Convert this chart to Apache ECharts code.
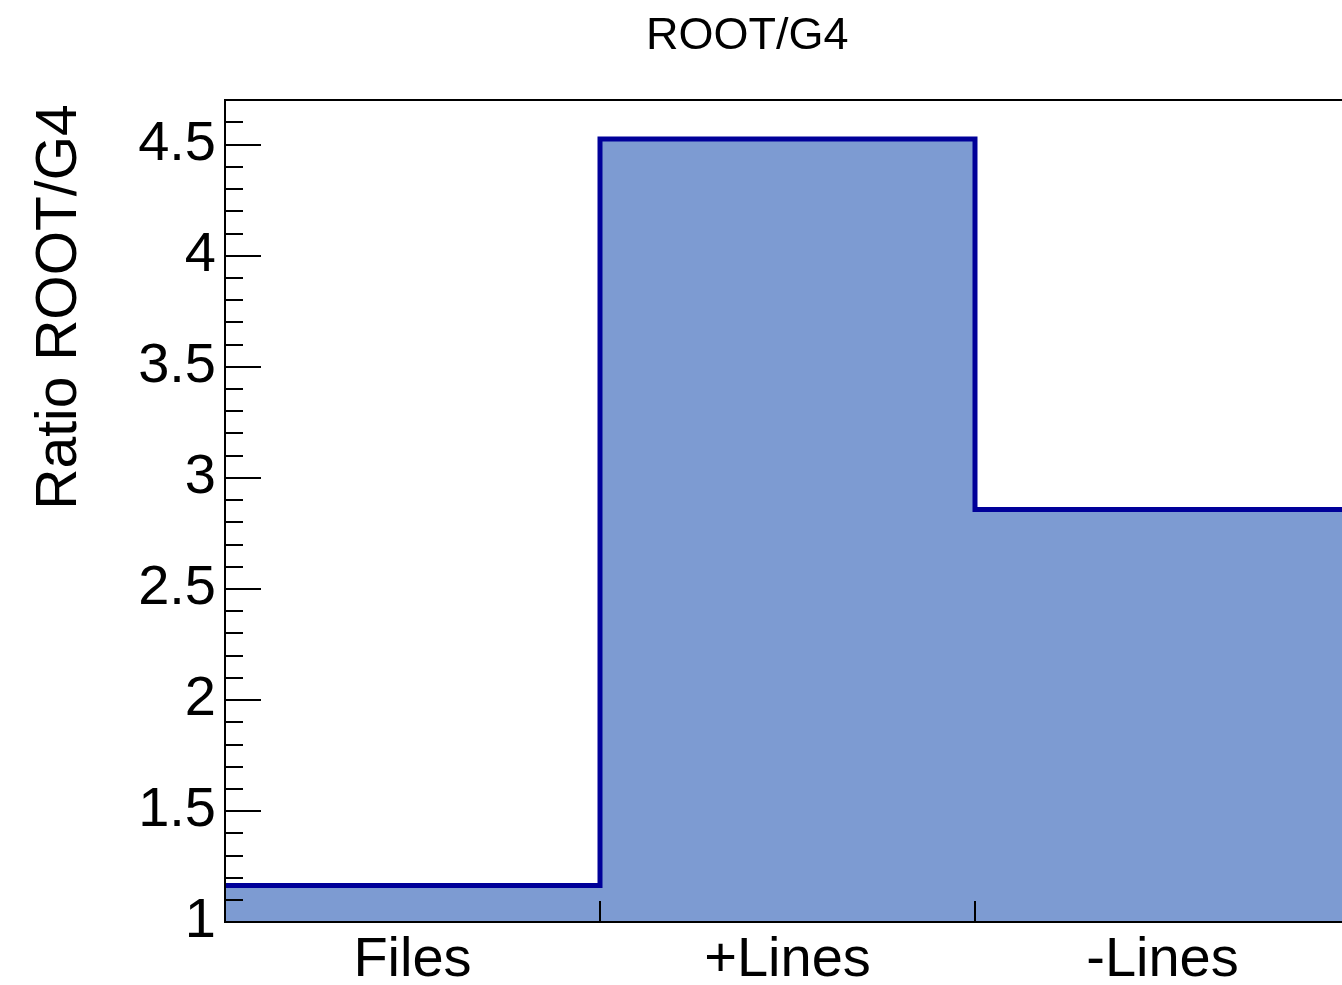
<!DOCTYPE html>
<html>
<head>
<meta charset="utf-8">
<script src="https://cdn.jsdelivr.net/npm/echarts@6/dist/echarts.min.js"></script>
<style>
  html, body { margin: 0; padding: 0; background: #ffffff; }
  #chart { width: 1342px; height: 985px; }
</style>
</head>
<body>
<div id="chart"></div>
<script>
// ---- data ----
const categories = ['Files', '+Lines', '-Lines'];
const ratios = [1.164, 4.525, 2.857];
const titleText = 'ROOT/G4';
const yAxisTitle = 'Ratio ROOT/G4';
const yMin = 1;
const yMax = 4.7;
const yMajorStep = 0.5;
const yMinorStep = 0.1;

// histogram outline as step points on bin edges (bin i spans [i, i+1])
const stepPoints = categories.map((c, i) => [i, ratios[i]]);
stepPoints.push([categories.length, ratios[ratios.length - 1]]);

const FONT = 'Liberation Sans, Arial, Helvetica, sans-serif';
const chart = echarts.init(document.getElementById('chart'), null, { renderer: 'canvas' });

chart.setOption({
  animation: false,
  backgroundColor: '#ffffff',
  title: {
    text: titleText,
    left: 641,
    top: 9,
    textStyle: { fontFamily: FONT, fontSize: 45, fontWeight: 'normal', color: '#000000' }
  },
  grid: {
    left: 225,
    top: 100,
    width: 1125,
    height: 822,
    show: true,
    borderColor: '#000000',
    borderWidth: 2,
    backgroundColor: 'transparent',
    z: 10,
    containLabel: false,
    outerBoundsMode: 'none'
  },
  xAxis: [
    {
      type: 'category',
      data: categories,
      boundaryGap: true,
      z: 10,
      axisLine: { show: true, lineStyle: { color: '#000000', width: 2 } },
      axisTick: { show: true, inside: true, length: 21, interval: 0, alignWithLabel: false,
                  lineStyle: { color: '#000000', width: 2 } },
      axisLabel: { show: true, margin: 11, interval: 0, color: '#000000', fontFamily: FONT, fontSize: 56 },
      splitLine: { show: false }
    },
    {
      type: 'value',
      min: 0,
      max: categories.length,
      show: false
    }
  ],
  yAxis: [
    {
      type: 'value',
      min: yMin,
      max: yMax,
      interval: yMajorStep,
      position: 'left',
      z: 10,
      name: yAxisTitle,
      nameLocation: 'middle',
      nameRotate: 90,
      nameGap: 136,
      nameTextStyle: { fontFamily: FONT, fontSize: 57, color: '#000000', padding: [0, 0, 0, 408] },
      axisLine: { show: true, lineStyle: { color: '#000000', width: 2 } },
      axisTick: { show: true, inside: true, length: 36, lineStyle: { color: '#000000', width: 2 } },
      axisLabel: { show: true, margin: 9, showMaxLabel: false, color: '#000000', fontFamily: FONT, fontSize: 56 },
      splitLine: { show: false }
    },
    {
      type: 'value',
      min: yMin,
      max: yMax,
      interval: yMinorStep,
      position: 'left',
      z: 10,
      axisLine: { show: false },
      axisTick: { show: true, inside: true, length: 18, lineStyle: { color: '#000000', width: 2 } },
      axisLabel: { show: false },
      splitLine: { show: false }
    }
  ],
  series: [
    {
      type: 'line',
      xAxisIndex: 1,
      yAxisIndex: 0,
      data: stepPoints,
      step: 'end',
      symbol: 'none',
      lineStyle: { color: '#000099', width: 5, join: 'miter' },
      areaStyle: { color: '#7d9bd2', opacity: 1, origin: 'start' },
      z: 2
    }
  ]
});
</script>
</body>
</html>
